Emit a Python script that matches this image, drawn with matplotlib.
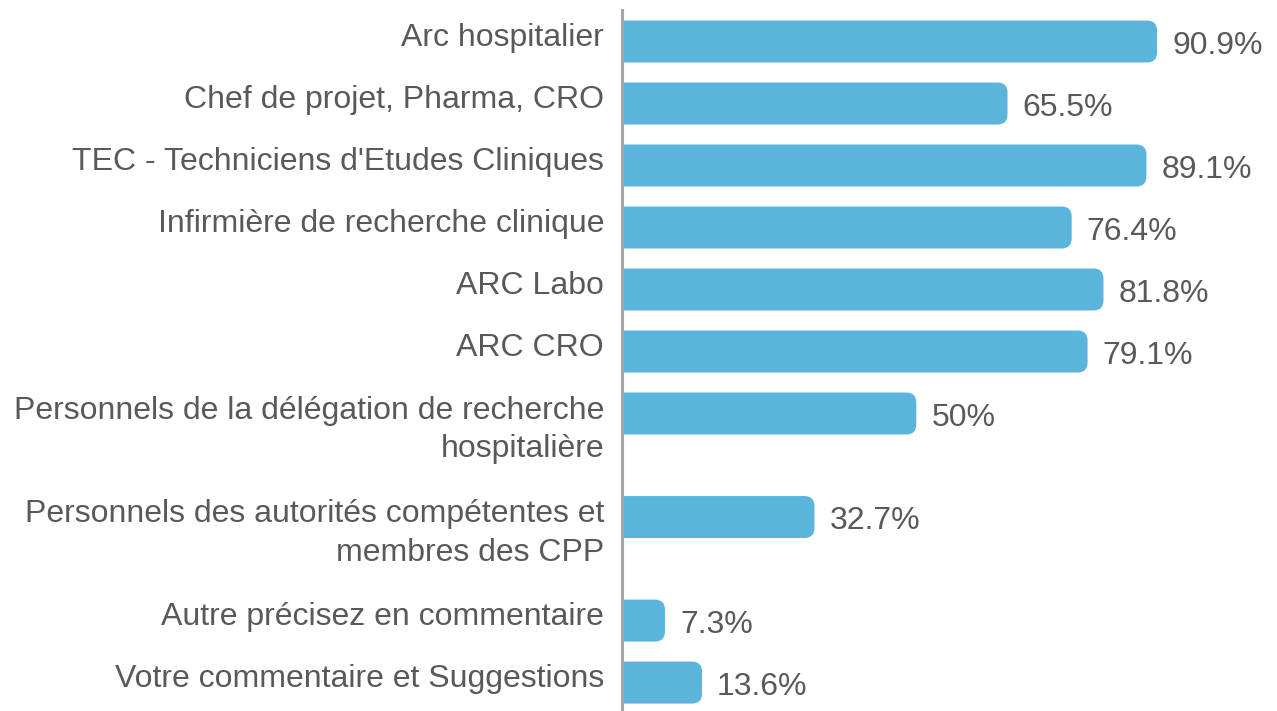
import matplotlib
matplotlib.use("Agg")
import matplotlib.pyplot as plt
from matplotlib.patches import FancyBboxPatch
from matplotlib.transforms import offset_copy

plt.rcParams['font.family'] = ['Liberation Sans', 'DejaVu Sans']

labels = [
    "Arc hospitalier",
    "Chef de projet, Pharma, CRO",
    "TEC - Techniciens d'Etudes Cliniques",
    "Infirmière de recherche clinique",
    "ARC Labo",
    "ARC CRO",
    "Personnels de la délégation de recherche\nhospitalière",
    "Personnels des autorités compétentes et\nmembres des CPP",
    "Autre précisez en commentaire",
    "Votre commentaire et Suggestions",
]
values = [90.9, 65.5, 89.1, 76.4, 81.8, 79.1, 50, 32.7, 7.3, 13.6]
value_labels = ["90.9%", "65.5%", "89.1%", "76.4%", "81.8%", "79.1%", "50%", "32.7%", "7.3%", "13.6%"]

bar_color = "#5bb4dc"
text_color = "#595959"

# row positions: two-line labels take more room
ypos = []
y = 0.0
for lab in labels:
    ypos.append(y)
    y += 1.0 + 0.67 * lab.count("\n")

W, H = 1277, 711
fig = plt.figure(figsize=(W / 100, H / 100), dpi=100)
ax = fig.add_axes([622 / W, 0, 1 - 622 / W, 701 / H])

px_x = 5.886   # pixels per percent
px_y = 62.0    # pixels per row unit
ax.set_xlim(0, (W - 622) / px_x)
ax.set_ylim((711 - 41.5) / px_y, (10 - 41.5) / px_y)

bars = ax.barh(ypos, values, height=0.677, color=bar_color)
for b in bars:
    x0, y0, w, h = b.get_x(), b.get_y(), b.get_width(), b.get_height()
    b.set_visible(False)
    p = FancyBboxPatch((x0 - 3, y0), w + 3, h,
                       boxstyle="round,pad=0,rounding_size=%f" % (10 / px_x),
                       mutation_aspect=px_x / px_y,
                       facecolor=bar_color, edgecolor="none")
    ax.add_patch(p)

# baseline alignment uses the last line, so push multi-line labels down
lab_tr = offset_copy(ax.transData, fig=fig, x=-18, y=0, units="dots")
for yp, lab in zip(ypos, labels):
    shift = 4.5 + 39 * lab.count("\n")
    ax.text(0, yp + shift / px_y, lab, transform=lab_tr, ha="right", va="baseline",
            fontsize=23, color=text_color, linespacing=1.35, multialignment="right")

val_tr = offset_copy(ax.transData, fig=fig, x=15, y=0, units="dots")
for yp, v, vl in zip(ypos, values, value_labels):
    ax.text(v, yp + 12 / px_y, vl, transform=val_tr, ha="left", va="baseline",
            fontsize=23, color=text_color)

for s in ["top", "right", "bottom"]:
    ax.spines[s].set_visible(False)
ax.spines["left"].set_color("#a6a6a6")
ax.spines["left"].set_linewidth(2.2)
ax.spines["left"].set_zorder(5)
ax.set_xticks([])
ax.set_yticks([])
ax.patch.set_alpha(0)

fig.savefig("out.png", dpi=100)
